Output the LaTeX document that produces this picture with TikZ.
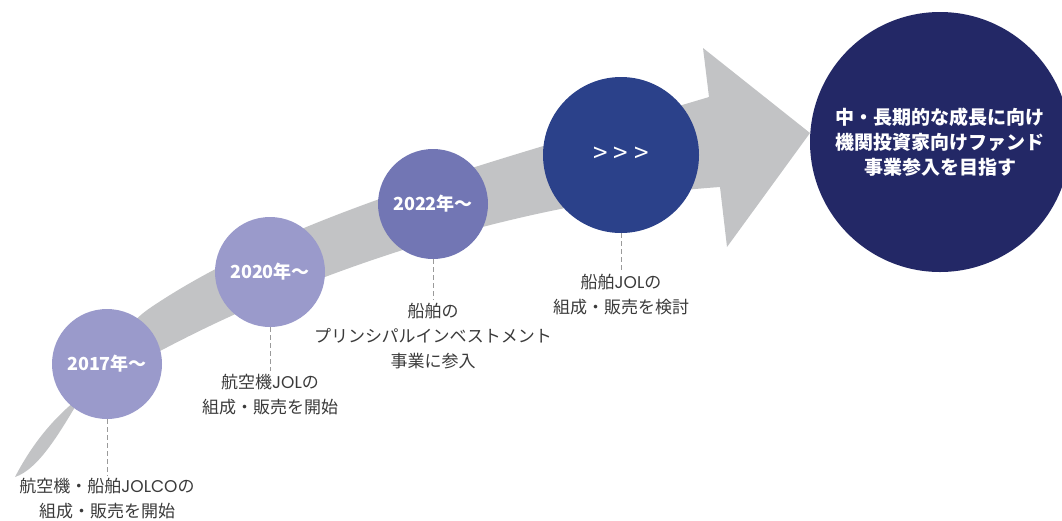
\documentclass[tikz,border=0pt]{standalone}
\usepackage{fontspec}
\newfontfamily\jp{Noto Sans CJK JP}
\newfontfamily\latf{Poppins}
\definecolor{arrowgray}{HTML}{C2C3C5}
\definecolor{lav}{HTML}{9A9ACB}
\definecolor{midv}{HTML}{7276B4}
\definecolor{blueone}{HTML}{2B418A}
\definecolor{navy}{HTML}{232866}
\definecolor{txt}{HTML}{3A3A3A}
\definecolor{dashc}{HTML}{9A9A9A}
\begin{document}
\begin{tikzpicture}[x=1pt,y=-1pt,
  yearcirc/.style={circle, inner sep=0pt, minimum size=110pt, text=white, font=\jp\bfseries\fontsize{18}{20}\selectfont},
  lbl/.style={align=center, text=txt, inner sep=3pt, font=\jp\fontsize{17}{25}\selectfont},
  leader/.style={draw=dashc, line width=0.9pt, dash pattern=on 5pt off 3pt}]
\useasboundingbox (0,0) rectangle (1062,520);
\clip (0,0) rectangle (1062,520);
% curved arrow band
\fill[arrowgray] (15,477) .. controls (60,462) and (95,345) .. (150,308)
  .. controls (290,213) and (509,157) .. (709,97)
  -- (703,48) -- (810,133) -- (727,247) -- (720,187)
  .. controls (520,201) and (312,270.5) .. (162,350)
  .. controls (110,375) and (55,400) .. (15,477)
  -- cycle;
% circles
\node[yearcirc, fill=lav] (c17) at (107,364) {2017年～};
\node[yearcirc, fill=lav] (c20) at (270,272) {2020年～};
\node[yearcirc, fill=midv] (c22) at (433,204) {2022年～};
\node[circle, inner sep=0pt, minimum size=156pt, fill=blueone, text=white, font=\jp\fontsize{26}{28}\selectfont] (c30) at (621,155) {>\hspace{6pt}>\hspace{6pt}>};
\node[circle, inner sep=0pt, minimum size=260pt, fill=navy, text=white, align=center, font=\jp\bfseries\fontsize{19}{25}\selectfont] (cgoal) at (940,142) {中・長期的な成長に向け\\機関投資家向けファンド\\事業参入を目指す};
% labels
\node[lbl] (l17) at (107,499) {航空機・船舶{\latf JOLCO}の\\組成・販売を開始};
\node[lbl] (l20) at (270,395) {航空機{\latf JOL}の\\組成・販売を開始};
\node[lbl] (l22) at (433,336) {船舶の\\プリンシパルインベストメント\\事業に参入};
\node[lbl] (l30) at (621,295) {船舶{\latf JOL}の\\組成・販売を検討};
% leaders
\draw[leader] (c17.south) -- (l17.north);
\draw[leader] (c20.south) -- (l20.north);
\draw[leader] (c22.south) -- (l22.north);
\draw[leader] (c30.south) -- (l30.north);
\end{tikzpicture}
\end{document}
